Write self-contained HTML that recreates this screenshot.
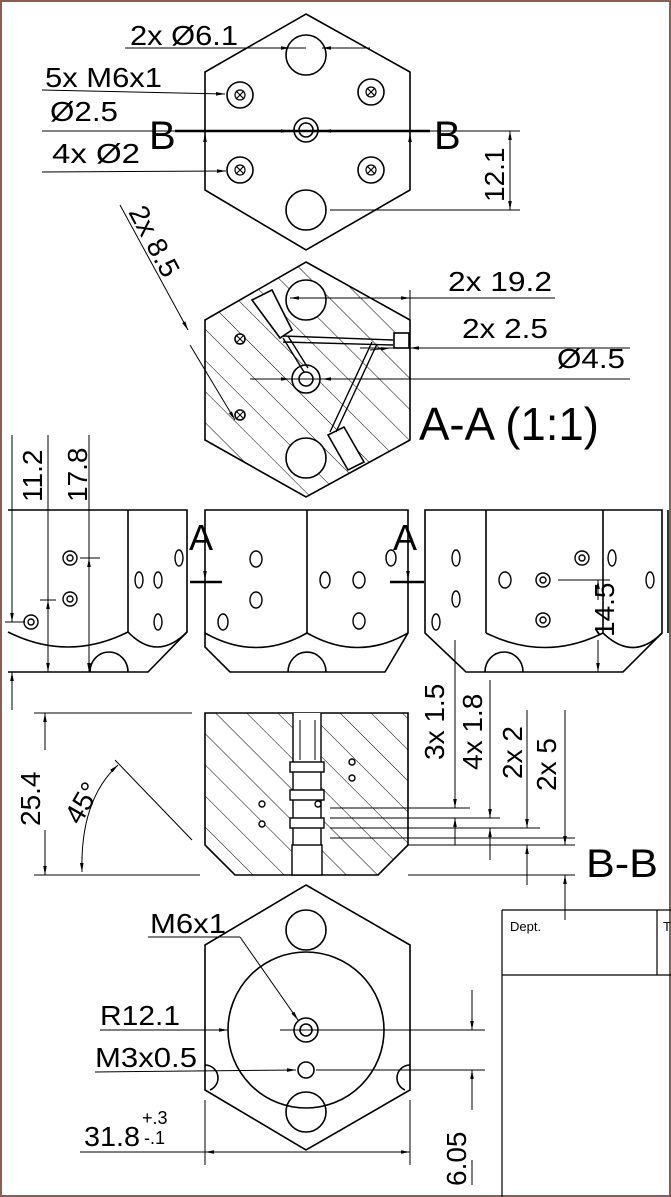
<!DOCTYPE html>
<html><head><meta charset="utf-8"><style>
html,body{margin:0;padding:0;background:#fff}
svg{display:block}
text{font-family:"Liberation Sans",sans-serif;fill:#000}
</style></head><body>
<svg width="671" height="1197" viewBox="0 0 671 1197" xmlns="http://www.w3.org/2000/svg">
<defs>
<pattern id="h" patternUnits="userSpaceOnUse" width="22" height="22" patternTransform="rotate(-45)">
<line x1="0" y1="0" x2="0" y2="22" stroke="#000" stroke-width="1"/>
</pattern>
<marker id="a" viewBox="0 0 10 10" refX="10" refY="5" markerWidth="9" markerHeight="9" orient="auto-start-reverse"><path d="M0,3 L10,5 L0,7z" fill="#000"/></marker>
</defs>
<rect x="1" y="1" width="669" height="1195" fill="none" stroke="#8b5e52" stroke-width="2"/>
<g fill="none" stroke="#000" stroke-width="1.6">
<polygon points="306,14 410,72 410,190 306,250 205,190 205,72"/>
<circle cx="306" cy="55" r="20"/><circle cx="306" cy="210" r="20"/>
<circle cx="240" cy="95" r="13"/><circle cx="371" cy="92" r="13"/><circle cx="240" cy="170" r="13"/><circle cx="371" cy="170" r="13"/>
<g stroke-width="1.2">
<circle cx="240" cy="95" r="5"/><circle cx="371" cy="92" r="5"/><circle cx="240" cy="170" r="5"/><circle cx="371" cy="170" r="5"/>
<path d="M236,91l8,8M244,91l-8,8M367,88l8,8M375,88l-8,8M236,166l8,8M244,166l-8,8M367,166l8,8M375,166l-8,8"/>
</g>
<circle cx="306" cy="130" r="12"/><circle cx="306" cy="130" r="7"/>
</g>
<g stroke="#000" stroke-width="1" fill="none">
<line x1="125" y1="48" x2="306" y2="48"/><line x1="270" y1="48" x2="290" y2="48" marker-end="url(#a)"/>
<line x1="370" y1="48" x2="322" y2="48" marker-end="url(#a)"/>
<line x1="42" y1="90" x2="225" y2="94" marker-end="url(#a)"/>
<line x1="42" y1="131" x2="290" y2="131" marker-end="url(#a)"/>
<line x1="360" y1="131" x2="322" y2="131" marker-end="url(#a)"/>
<line x1="42" y1="172" x2="226" y2="171" marker-end="url(#a)"/>
<line x1="175" y1="131" x2="430" y2="131" stroke-width="2.5"/>
<line x1="205" y1="175" x2="205" y2="133" marker-end="url(#a)"/>
<line x1="410" y1="175" x2="410" y2="133" marker-end="url(#a)"/>
<line x1="330" y1="210" x2="520" y2="210"/><line x1="420" y1="131" x2="520" y2="131"/>
<line x1="510" y1="131" x2="510" y2="210" marker-start="url(#a)" marker-end="url(#a)"/>
<line x1="120" y1="205" x2="188" y2="330" marker-end="url(#a)"/>
<line x1="235" y1="420" x2="190" y2="345" marker-start="url(#a)"/>
</g>
<text x="130" y="45" font-size="28" textLength="108" lengthAdjust="spacingAndGlyphs">2x Ø6.1</text>
<text x="45" y="87" font-size="28" textLength="117" lengthAdjust="spacingAndGlyphs">5x M6x1</text>
<text x="50" y="121" font-size="28" textLength="68" lengthAdjust="spacingAndGlyphs">Ø2.5</text>
<text x="52" y="163" font-size="28" textLength="88" lengthAdjust="spacingAndGlyphs">4x Ø2</text>
<text x="149" y="149" font-size="40">B</text>
<text x="434" y="149" font-size="40">B</text>
<text transform="translate(504,202) rotate(-90)" font-size="28">12.1</text>
<text transform="translate(128,212) rotate(62)" font-size="28">2x 8.5</text>
<polygon points="306,262 410,320 410,440 306,497 205,440 205,320" fill="url(#h)" stroke="#000" stroke-width="1.6"/>
<g fill="#fff" stroke="#000" stroke-width="1.6">
<polygon points="252,300 272,290 292,330 280,338"/>
<polygon points="328,435 344,427 364,462 348,470"/>
<circle cx="306" cy="300" r="20"/><circle cx="306" cy="458" r="20"/>
<circle cx="306" cy="379" r="14"/><circle cx="306" cy="379" r="7"/>
<rect x="394" y="333" width="15" height="15"/>
<circle cx="240" cy="339" r="5"/><circle cx="240" cy="415" r="5"/>
</g>
<g fill="none" stroke="#000" stroke-width="1.4">
<path d="M283,336 L393,340 M283,342 L393,345"/>
<path d="M283,338 L304,372 M288,336 L308,368"/>
<path d="M372,342 L330,432 M377,344 L336,432"/>
<path d="M236,335l8,8M244,335l-8,8M236,411l8,8M244,411l-8,8" stroke-width="1"/>
</g>
<g stroke="#000" stroke-width="1">
<line x1="290" y1="298" x2="555" y2="298"/>
<line x1="360" y1="298" x2="290" y2="298" marker-end="url(#a)"/>
<line x1="390" y1="298" x2="410" y2="298" marker-end="url(#a)"/>
<line x1="410" y1="290" x2="410" y2="320"/>
<line x1="360" y1="348" x2="630" y2="348"/>
<line x1="450" y1="348" x2="410" y2="348" marker-end="url(#a)"/>
<line x1="370" y1="350" x2="390" y2="348" marker-end="url(#a)"/>
<line x1="250" y1="379" x2="630" y2="379"/>
<line x1="260" y1="379" x2="290" y2="379" marker-end="url(#a)"/>
<line x1="350" y1="379" x2="322" y2="379" marker-end="url(#a)"/>
</g>
<text x="448" y="291" font-size="28" textLength="104" lengthAdjust="spacingAndGlyphs">2x 19.2</text>
<text x="462" y="338" font-size="28" textLength="86" lengthAdjust="spacingAndGlyphs">2x 2.5</text>
<text x="557" y="368" font-size="28" textLength="68" lengthAdjust="spacingAndGlyphs">Ø4.5</text>
<text x="419" y="440" font-size="46" textLength="180" lengthAdjust="spacingAndGlyphs">A-A (1:1)</text>
<g fill="none" stroke="#000" stroke-width="1.6">
<path d="M8,510 H187 V632 L148,672 H8"/>
<line x1="128" y1="510" x2="128" y2="632"/>
<path d="M8,632 Q68,662 128,632 Q157,662 187,632"/>
<path d="M90,672 A19,20 0 0 1 128,672"/>
<path d="M205,510 H408 V633 L385,672 H230 L205,647 Z"/>
<line x1="307" y1="510" x2="307" y2="633"/>
<path d="M205,633 Q256,662 307,633 Q358,662 408,633"/>
<path d="M288,672 A19,20 0 0 1 326,672"/>
<path d="M425,510 H662 V633 L623,672 H466 L425,633 Z"/>
<line x1="486" y1="510" x2="486" y2="633"/><line x1="603" y1="510" x2="603" y2="633"/>
<path d="M486,633 Q545,662 603,633 Q633,662 662,633"/>
<path d="M485,672 A19,20 0 0 1 523,672"/>
<line x1="668" y1="510" x2="668" y2="633"/>
</g>
<g fill="none" stroke="#000" stroke-width="1.4">
<circle cx="70" cy="558" r="7"/><circle cx="70" cy="558" r="3"/>
<circle cx="70" cy="599" r="7"/><circle cx="70" cy="599" r="3"/>
<circle cx="31" cy="622" r="7"/><circle cx="31" cy="622" r="3"/>
<ellipse cx="179" cy="558" rx="4" ry="8"/><ellipse cx="139" cy="580" rx="4" ry="8"/><ellipse cx="158" cy="580" rx="4" ry="8"/><ellipse cx="158" cy="622" rx="4" ry="8"/>
<ellipse cx="256" cy="559" rx="6" ry="8"/><ellipse cx="256" cy="600" rx="6" ry="8"/><ellipse cx="359" cy="580" rx="6" ry="8"/><ellipse cx="359" cy="621" rx="6" ry="8"/>
<ellipse cx="223" cy="622" rx="5" ry="8"/><ellipse cx="325" cy="580" rx="5" ry="8"/><ellipse cx="391" cy="558" rx="5" ry="8"/>
<ellipse cx="456" cy="558" rx="4" ry="8"/><ellipse cx="456" cy="599" rx="4" ry="8"/><ellipse cx="436" cy="622" rx="4" ry="8"/>
<ellipse cx="505" cy="580" rx="6" ry="8"/>
<circle cx="543" cy="580" r="7"/><circle cx="543" cy="580" r="3"/>
<circle cx="582" cy="558" r="7"/><circle cx="582" cy="558" r="3"/>
<circle cx="543" cy="620" r="7"/><circle cx="543" cy="620" r="3"/>
<ellipse cx="612" cy="558" rx="4" ry="8"/><ellipse cx="650" cy="580" rx="4" ry="8"/>
</g>
<g stroke="#000" stroke-width="1">
<line x1="48" y1="435" x2="48" y2="672"/><line x1="89" y1="435" x2="89" y2="672"/>
<line x1="48" y1="640" x2="48" y2="600" marker-end="url(#a)"/>
<line x1="48" y1="640" x2="48" y2="672" marker-end="url(#a)"/>
<line x1="89" y1="630" x2="89" y2="558" marker-end="url(#a)"/>
<line x1="89" y1="640" x2="89" y2="672" marker-end="url(#a)"/>
<line x1="80" y1="558" x2="100" y2="558"/><line x1="40" y1="600" x2="56" y2="600"/>
<line x1="12" y1="435" x2="12" y2="622" marker-end="url(#a)"/>
<line x1="12" y1="710" x2="12" y2="672" marker-end="url(#a)"/>
<line x1="5" y1="622" x2="25" y2="622"/>
<line x1="598" y1="600" x2="598" y2="580" marker-end="url(#a)"/>
<line x1="598" y1="640" x2="598" y2="672" marker-end="url(#a)"/>
<line x1="558" y1="580" x2="610" y2="580"/>
<line x1="190" y1="582" x2="222" y2="582" stroke-width="2.5"/>
<line x1="390" y1="582" x2="424" y2="582" stroke-width="2.5"/>
<line x1="205" y1="545" x2="205" y2="580" marker-end="url(#a)"/>
<line x1="408" y1="545" x2="408" y2="580" marker-end="url(#a)"/>
</g>
<text transform="translate(42,502) rotate(-90)" font-size="28">11.2</text>
<text transform="translate(87,502) rotate(-90)" font-size="28">17.8</text>
<text transform="translate(614,637) rotate(-90)" font-size="28">14.5</text>
<text x="189" y="550" font-size="36">A</text>
<text x="393" y="550" font-size="36">A</text>
<polygon points="205,713 408,713 408,845 378,875 235,875 205,845" fill="url(#h)" stroke="#000" stroke-width="1.6"/>
<g fill="#fff" stroke="#000" stroke-width="1.4">
<rect x="293" y="713" width="28" height="162" stroke="none"/>
<line x1="293" y1="713" x2="293" y2="875"/><line x1="321" y1="713" x2="321" y2="875"/>
<rect x="290" y="762" width="34" height="10"/><rect x="290" y="790" width="34" height="10"/><rect x="290" y="818" width="34" height="10"/>
<rect x="292" y="845" width="30" height="30"/>
<circle cx="352" cy="762" r="3"/><circle cx="352" cy="778" r="3"/><circle cx="262" cy="804" r="3"/><circle cx="262" cy="824" r="3"/><circle cx="318" cy="804" r="3"/>
</g>
<g stroke="#000" stroke-width="1">
<line x1="300" y1="720" x2="300" y2="760"/><line x1="315" y1="720" x2="315" y2="760"/>
<line x1="34" y1="713" x2="192" y2="713"/><line x1="34" y1="875" x2="200" y2="875"/>
<line x1="45" y1="750" x2="45" y2="713" marker-end="url(#a)"/>
<line x1="45" y1="830" x2="45" y2="875" marker-end="url(#a)"/>
<line x1="115" y1="760" x2="192" y2="840"/>
<path d="M118,765 Q80,800 82,872" fill="none" marker-start="url(#a)" marker-end="url(#a)"/>
<line x1="330" y1="808" x2="470" y2="808"/><line x1="330" y1="818" x2="500" y2="818"/>
<line x1="330" y1="828" x2="540" y2="828"/><line x1="330" y1="838" x2="575" y2="838"/>
<line x1="408" y1="845" x2="575" y2="845"/><line x1="408" y1="875" x2="575" y2="875"/>
<line x1="455" y1="640" x2="455" y2="808" marker-end="url(#a)"/>
<line x1="455" y1="845" x2="455" y2="818" marker-end="url(#a)"/>
<line x1="490" y1="680" x2="490" y2="818" marker-end="url(#a)"/>
<line x1="490" y1="860" x2="490" y2="828" marker-end="url(#a)"/>
<line x1="527" y1="710" x2="527" y2="828" marker-end="url(#a)"/>
<line x1="527" y1="885" x2="527" y2="845" marker-end="url(#a)"/>
<line x1="565" y1="710" x2="565" y2="845" marker-end="url(#a)"/>
<line x1="565" y1="920" x2="565" y2="875" marker-end="url(#a)"/>
</g>
<text transform="translate(40,826) rotate(-90)" font-size="28">25.4</text>
<text transform="translate(80,826) rotate(-60)" font-size="28">45°</text>
<text transform="translate(444,760) rotate(-90)" font-size="28">3x 1.5</text>
<text transform="translate(482,770) rotate(-90)" font-size="28">4x 1.8</text>
<text transform="translate(522,779) rotate(-90)" font-size="28">2x 2</text>
<text transform="translate(556,791) rotate(-90)" font-size="28">2x 5</text>
<text x="586" y="877" font-size="40" textLength="72" lengthAdjust="spacingAndGlyphs">B-B</text>
<g fill="none" stroke="#000" stroke-width="1.6">
<polygon points="306,885 410,945 410,1090 306,1150 205,1090 205,945"/>
<circle cx="306" cy="1030" r="78"/>
<circle cx="306" cy="930" r="20"/><circle cx="306" cy="1112" r="20"/>
<circle cx="306" cy="1030" r="12"/><circle cx="306" cy="1030" r="6"/>
<circle cx="306" cy="1070" r="8"/>
<path d="M205,1065 A13,13 0 0 1 218,1078 A13,13 0 0 1 210,1090"/>
<path d="M410,1065 A13,13 0 0 0 397,1078 A13,13 0 0 0 405,1090"/>
</g>
<g stroke="#000" stroke-width="1">
<line x1="148" y1="937" x2="240" y2="937"/><line x1="240" y1="937" x2="298" y2="1020" marker-end="url(#a)"/>
<line x1="100" y1="1030" x2="228" y2="1030" marker-end="url(#a)"/>
<line x1="280" y1="1030" x2="485" y2="1030"/>
<line x1="95" y1="1072" x2="296" y2="1070" marker-end="url(#a)"/>
<line x1="316" y1="1070" x2="485" y2="1070"/>
<line x1="472" y1="990" x2="472" y2="1030" marker-end="url(#a)"/>
<line x1="472" y1="1110" x2="472" y2="1070" marker-end="url(#a)"/>
<line x1="472" y1="1160" x2="472" y2="1185"/>
<line x1="205" y1="1100" x2="205" y2="1165"/><line x1="410" y1="1100" x2="410" y2="1165"/>
<line x1="80" y1="1152" x2="205" y2="1152"/>
<line x1="300" y1="1152" x2="205" y2="1152" marker-end="url(#a)"/>
<line x1="300" y1="1152" x2="410" y2="1152" marker-end="url(#a)"/>
</g>
<text x="150" y="933" font-size="28" textLength="76" lengthAdjust="spacingAndGlyphs">M6x1</text>
<text x="100" y="1025" font-size="28" textLength="80" lengthAdjust="spacingAndGlyphs">R12.1</text>
<text x="95" y="1067" font-size="28" textLength="102" lengthAdjust="spacingAndGlyphs">M3x0.5</text>
<text x="84" y="1146" font-size="28" textLength="56" lengthAdjust="spacingAndGlyphs">31.8</text>
<text x="142" y="1124" font-size="18">+.3</text>
<text x="144" y="1144" font-size="18">-.1</text>
<text transform="translate(466,1186) rotate(-90)" font-size="28">6.05</text>
<g stroke="#000" stroke-width="1.2" fill="none">
<line x1="502" y1="910" x2="671" y2="910"/>
<line x1="502" y1="910" x2="502" y2="1197"/>
<line x1="502" y1="975" x2="671" y2="975"/>
<line x1="657" y1="910" x2="657" y2="975"/>
</g>
<text x="510" y="931" font-size="13">Dept.</text>
<text x="663" y="931" font-size="13">T</text>
</svg>
</body></html>
